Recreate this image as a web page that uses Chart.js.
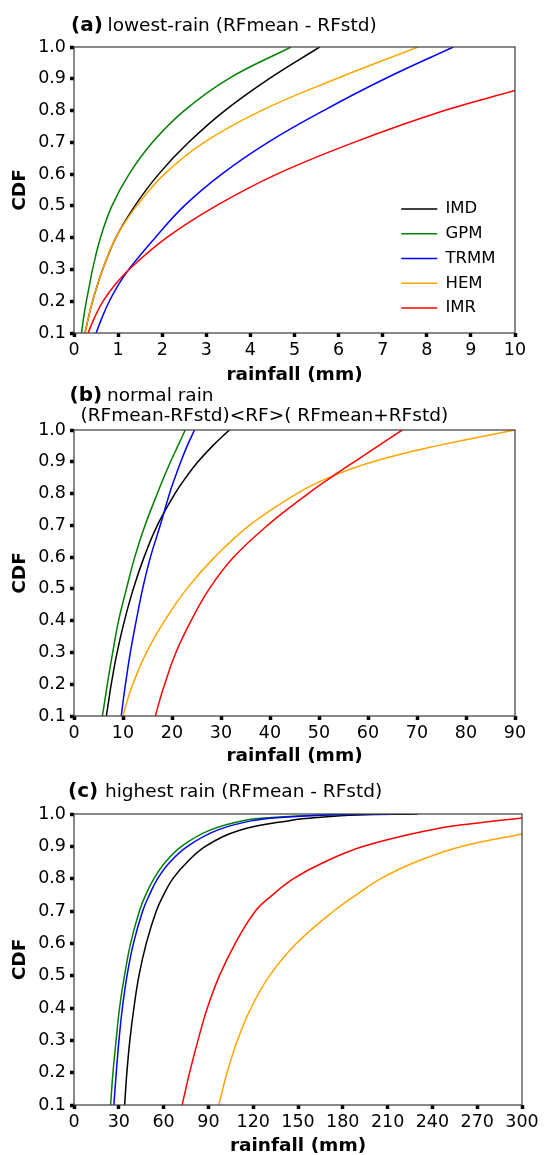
<!DOCTYPE html>
<html>
<head>
<meta charset="utf-8">
<script src="https://cdn.jsdelivr.net/npm/chart.js@4.4.1/dist/chart.umd.min.js"></script>
<style>
  html, body { margin: 0; padding: 0; background: #fff; }
  .panel { width: 544px; height: 385px; }
</style>
</head>
<body>
<div class="panel"><canvas id="chartA" width="544" height="385"></canvas></div>
<div class="panel"><canvas id="chartB" width="544" height="385"></canvas></div>
<div class="panel"><canvas id="chartC" width="544" height="385"></canvas></div>
<script>
// series names + colours (same order in every panel)
const names = ['IMD', 'GPM', 'TRMM', 'HEM', 'IMR'];
const colors = ['#000000', '#008000', '#0000ff', '#ffa500', '#ff0000'];

// panel (a) lowest rain, rainfall (mm) at each CDF level
const cdfA = [0.1, 0.15, 0.2, 0.25, 0.3, 0.4, 0.5, 0.6, 0.7, 0.8, 0.9, 1.0];
const imdA = [0.25, 0.33, 0.42, 0.53, 0.65, 0.95, 1.38, 1.92, 2.6, 3.42, 4.42, 5.57];
const gpmA = [0.17, 0.22, 0.28, 0.35, 0.42, 0.60, 0.86, 1.25, 1.78, 2.5, 3.5, 4.92];
const trmmA = [0.5, 0.64, 0.8, 1.0, 1.24, 1.84, 2.5, 3.35, 4.4, 5.66, 7.05, 8.6];
const hemA = [0.25, 0.33, 0.42, 0.53, 0.65, 0.95, 1.42, 2.05, 2.95, 4.25, 5.95, 7.8];
const imrCdfA = [0.1, 0.15, 0.2, 0.25, 0.3, 0.4, 0.5, 0.6, 0.7, 0.8, 0.863];
const imrA = [0.32, 0.47, 0.66, 0.92, 1.25, 2.1, 3.22, 4.6, 6.35, 8.4, 10];

// panel (b) normal rain
const cdfB = [0.1, 0.15, 0.2, 0.3, 0.4, 0.5, 0.6, 0.7, 0.8, 0.85, 0.9, 0.95, 1.0];
const imdB = [6.6, 7.1, 7.6, 8.8, 10.3, 12.1, 14.3, 17.0, 20.6, 22.8, 25.3, 28.3, 31.7];
const gpmB = [5.8, 6.3, 6.8, 7.9, 9.1, 10.7, 12.4, 14.5, 17.0, 18.3, 19.7, 21.2, 22.7];
const trmmB = [9.65, 10.05, 10.5, 11.5, 12.7, 14.0, 15.6, 17.6, 19.5, 20.6, 21.8, 23.1, 24.6];
const hemB = [10.0, 10.9, 12.0, 14.8, 18.5, 23.0, 28.7, 35.8, 45.5, 52.0, 61.0, 74.0, 90.0];
const imrB = [16.6, 17.5, 18.5, 20.8, 23.9, 27.6, 32.6, 39.5, 47.8, 52.4, 57.2, 62.1, 67.0];

// panel (c) highest rain
const cdfC = [0.1, 0.2, 0.3, 0.4, 0.5, 0.6, 0.7, 0.75, 0.8, 0.85, 0.9, 0.95, 0.98, 0.99, 0.997, 1.0];
const imdC = [33.9, 35.4, 37.4, 40.1, 43.5, 48.4, 55.1, 60.0, 66.2, 75.5, 88, 111, 145, 165, 190, 230];
const gpmC = [24.5, 26.1, 28.2, 30.5, 33.8, 37.9, 43.8, 48.0, 53.5, 61, 72, 91, 114, 135, 165, 210];
const trmmC = [26.7, 28.3, 30.1, 32.4, 35.5, 39.8, 46.0, 50.5, 56.0, 64, 76, 96, 120, 140, 170, 215];
const hemCdfC = [0.1, 0.2, 0.3, 0.4, 0.5, 0.6, 0.7, 0.75, 0.8, 0.85, 0.9, 0.938];
const hemC = [97, 102.5, 109.5, 118.5, 131, 149, 174, 189, 205.5, 228, 260, 300];
const imrCdfC = [0.1, 0.2, 0.3, 0.4, 0.5, 0.6, 0.7, 0.75, 0.8, 0.85, 0.9, 0.95, 0.97, 0.988];
const imrC = [72.4, 77.4, 83.0, 89.3, 97.4, 108, 121.5, 133, 147, 167, 194, 238, 266, 300];

// panel headings, (x) part is bold and a bit bigger
const titles = {
    chartA: [
        { text: '(a)', bold: true, x: 71, y: 26 },
        { text: 'lowest-rain (RFmean - RFstd)', x: 107.5, y: 26 }
    ],
    chartB: [
        { text: '(b)', bold: true, x: 69.5, y: 11 },
        { text: 'normal rain', x: 107, y: 11 },
        { text: '(RFmean-RFstd)<RF>( RFmean+RFstd)', x: 80.5, y: 31 }
    ],
    chartC: [
        { text: '(c)', bold: true, x: 68, y: 22 },
        { text: 'highest rain (RFmean - RFstd)', x: 105, y: 22 }
    ]
};

const FONT = '"DejaVu Sans", sans-serif';

// draws the heading text above each plot
const panelTitle = {
    id: 'panelTitle',
    afterDraw(chart) {
        const ctx = chart.ctx;
        ctx.save();
        ctx.fillStyle = '#000';
        ctx.textBaseline = 'middle';
        (titles[chart.canvas.id] || []).forEach(t => {
            ctx.font = t.bold ? 'bold 20px ' + FONT : '18.5px ' + FONT;
            ctx.fillText(t.text, t.x, t.y);
        });
        ctx.restore();
    }
};

// box round the plot area, like matplotlib spines
const frame = {
    id: 'frame',
    afterDatasetsDraw(chart) {
        const { ctx, chartArea: a } = chart;
        ctx.save();
        ctx.strokeStyle = '#3a3a3a';
        ctx.lineWidth = 1.2;
        ctx.strokeRect(a.left, a.top, a.right - a.left, a.bottom - a.top);
        ctx.restore();
    }
};

// move the legend to the lower right inside the plot (panel a only)
const legendSpot = {
    id: 'legendSpot',
    afterLayout(chart) {
        const lg = chart.legend;
        if (!lg || !lg.options.display) return;
        lg.left = 393;
        lg.top = 192.5;
        lg.right = lg.left + lg.width;
        lg.bottom = lg.top + lg.height;
    }
};

function series(rain, cdf) {
    return rain.map((x, i) => ({ x: x, y: cdf[i] }));
}

function makePanel(id, cfg) {
    const tickGrid = { drawOnChartArea: false, tickLength: 4, tickWidth: 3.5, tickColor: '#000' };
    const tickFont = { family: FONT, size: 17.5 };
    const axisFont = { family: FONT, size: 18.5, weight: 'bold' };
    return new Chart(document.getElementById(id), {
        type: 'line',
        data: {
            datasets: cfg.data.map((d, i) => ({
                label: names[i],
                data: d,
                borderColor: colors[i],
                backgroundColor: colors[i],
                borderWidth: 1.5,
                pointRadius: 0,
                fill: false,
                tension: 0.4,
                order: names.length - i
            }))
        },
        options: {
            responsive: false,
            animation: false,
            events: [],
            layout: { padding: { top: cfg.top, right: 544 - cfg.right, bottom: 0, left: 0 } },
            scales: {
                x: {
                    type: 'linear', min: 0, max: cfg.xMax,
                    ticks: { stepSize: cfg.xStep, padding: 3, font: tickFont, color: '#000', maxRotation: 0, autoSkip: false },
                    grid: tickGrid,
                    border: { display: false },
                    title: { display: true, text: 'rainfall (mm)', font: axisFont, color: '#000', padding: { top: 0, bottom: cfg.xTitlePad } },
                    afterFit: s => { s.height = 385 - cfg.bottom; }
                },
                y: {
                    type: 'linear', min: 0.1, max: 1.0,
                    ticks: { stepSize: 0.1, padding: 4, font: tickFont, color: '#000', callback: v => v.toFixed(1) },
                    grid: tickGrid,
                    border: { display: false },
                    title: { display: true, text: 'CDF', font: axisFont, color: '#000', padding: { top: 9.4, bottom: 0 } },
                    afterFit: s => { s.width = 74; }
                }
            },
            plugins: {
                legend: {
                    display: cfg.legend,
                    position: 'chartArea',
                    align: 'start',
                    labels: {
                        usePointStyle: true, pointStyle: 'line', pointStyleWidth: 36,
                        padding: 8.25, color: '#000', font: { family: FONT, size: 16.5 },
                        sort: (a, b) => a.datasetIndex - b.datasetIndex
                    }
                },
                tooltip: { enabled: false }
            }
        },
        plugins: [panelTitle, frame, legendSpot]
    });
}

makePanel('chartA', {
    data: [series(imdA, cdfA), series(gpmA, cdfA), series(trmmA, cdfA), series(hemA, cdfA), series(imrA, imrCdfA)],
    xMax: 10, xStep: 1, top: 47, bottom: 333, right: 515, xTitlePad: -1, legend: true
});
makePanel('chartB', {
    data: [series(imdB, cdfB), series(gpmB, cdfB), series(trmmB, cdfB), series(hemB, cdfB), series(imrB, cdfB)],
    xMax: 90, xStep: 10, top: 45, bottom: 331, right: 515, xTitlePad: 3, legend: false
});
makePanel('chartC', {
    data: [series(imdC, cdfC), series(gpmC, cdfC), series(trmmC, cdfC), series(hemC, hemCdfC), series(imrC, imrCdfC)],
    xMax: 300, xStep: 30, top: 44, bottom: 335, right: 522, xTitlePad: -2.5, legend: false
});
</script>
</body>
</html>
